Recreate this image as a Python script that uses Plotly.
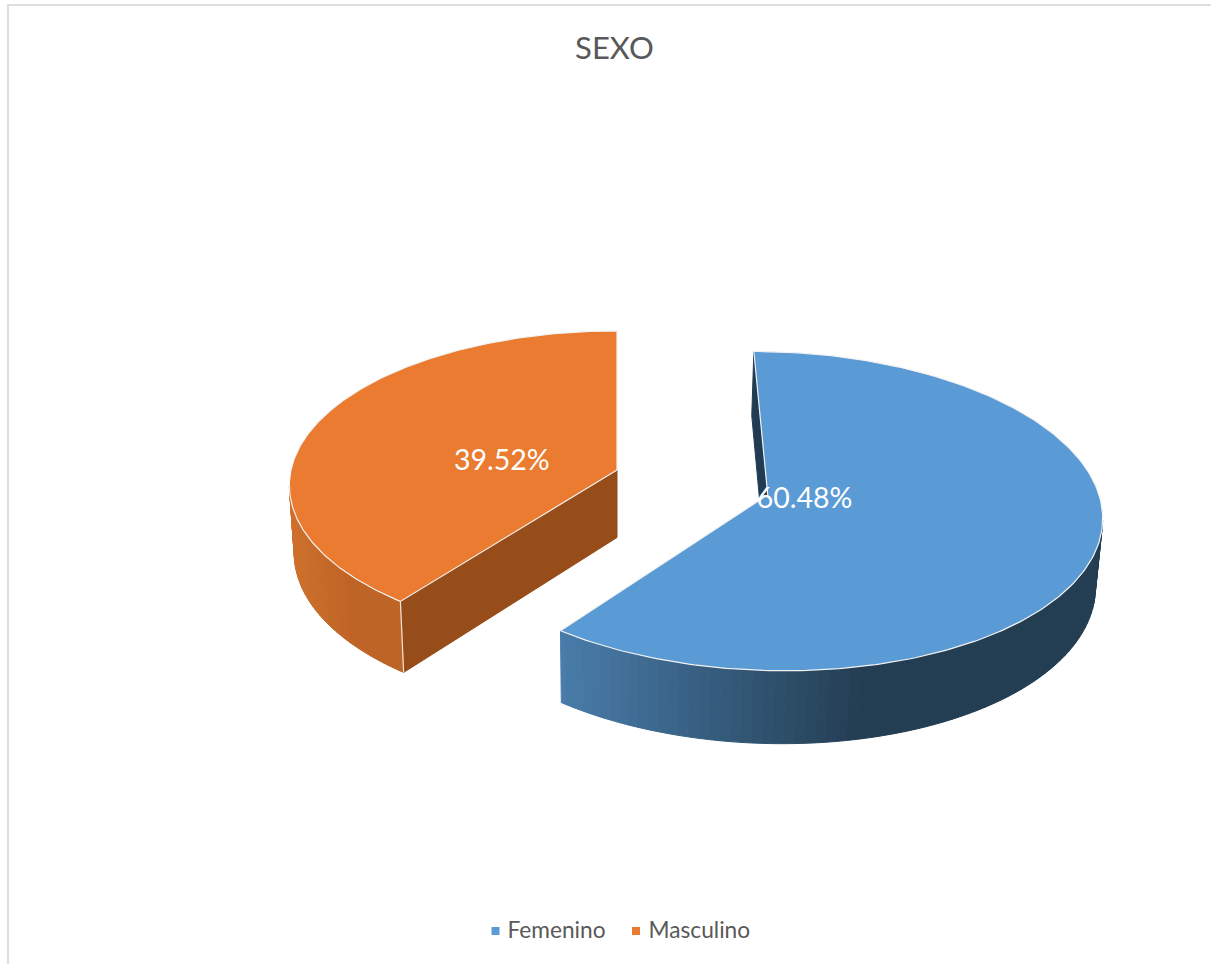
import numpy as np
import plotly.graph_objects as go

# Chart content
TITLE = "SEXO"
categories = ["Femenino", "Masculino"]
shares = [60.48, 39.52]

# Colours per category
TOP_COLOURS = ["#5B9BD5", "#EA7B30"]
CUT_COLOURS = ["#213C52", "#974D1A"]
RIM_LIGHT = ["#4A7DAB", "#CF702C"]
RIM_DARK = ["#233D52", "#BE6426"]
INK = "#595959"

# Camera model for the exploded 3D pie
VIEW_X, VIEW_Y = 617.0, 470.0
SCALE_X, SCALE_Y = 326.0, 153.0
DEPTH_K = 0.10
THICKNESS = 67.5
BOTTOM_SHRINK = 0.985
# Each slice's apex and label anchor on the ground plane, in radius units
APEX = [(0.455, -0.16), (0.0, 0.0)]
LABEL_AT = [(0.564, -0.195), (-0.355, 0.046)]
# Legend key centres and where their captions start
KEY_X = [495.5, 636.0]
CAPTION_X = [507.5, 648.5]
KEY_Y = 931


def project(px, py, lower=False):
    """Project ground-plane points to the drawing plane."""
    px, py = np.asarray(px, float), np.asarray(py, float)
    d = 1 + DEPTH_K * py
    sx = SCALE_X * px / d
    sy = -SCALE_Y * py / d
    if lower:
        sx = sx * BOTTOM_SHRINK
        sy = sy + THICKNESS + 0.027 * sy
    return VIEW_X + sx, VIEW_Y + sy


def mix(c1, c2, f):
    a = [int(c1[i:i + 2], 16) for i in (1, 3, 5)]
    b = [int(c2[i:i + 2], 16) for i in (1, 3, 5)]
    return "rgb(%d,%d,%d)" % tuple(round(p + (q - p) * f) for p, q in zip(a, b))


fig = go.Figure()


def poly(x, y, fill, line=None, width=1):
    fig.add_trace(go.Scatter(
        x=list(x), y=list(y), mode="lines", fill="toself", fillcolor=fill,
        line=dict(color=line or fill, width=width),
        hoverinfo="skip", showlegend=False,
    ))


# Cumulative slice angles, clockwise from twelve o'clock
fractions = np.array(shares) / sum(shares)
ends = np.cumsum(fractions) * 2 * np.pi
starts = ends - fractions * 2 * np.pi

for i in range(len(categories)):
    apex, a, b = APEX[i], starts[i], ends[i]
    ax, ay = project(apex[0], apex[1])
    lax, lay = project(apex[0], apex[1], lower=True)

    # Cut face at the leading angle; the top face covers whatever lies behind it
    ex, ey = apex[0] + np.sin(a), apex[1] + np.cos(a)
    cx, cy = project(ex, ey)
    dx, dy = project(ex, ey, lower=True)
    poly([ax, cx, dx, lax, ax], [ay, cy, dy, lay, ay], CUT_COLOURS[i])

    # Outer wall split into shaded strips
    t = np.linspace(a, b, 260)
    rx, ry = apex[0] + np.sin(t), apex[1] + np.cos(t)
    tx, ty = project(rx, ry)
    bx, by = project(rx, ry, lower=True)
    front = np.where(np.gradient(tx) < 0)[0]
    i0, i1 = front[0], front[-1]
    idx = np.arange(i0, i1 + 1)
    left, right = tx[idx].min(), tx[idx].max()
    for k in idx[:-1][::2]:
        k2 = min(k + 2, i1)
        shade = min((tx[k] - left) / (right - left) * 1.75, 1)
        poly([tx[k], tx[k2], bx[k2], bx[k], tx[k]],
             [ty[k], ty[k2], by[k2], by[k], ty[k]],
             mix(RIM_LIGHT[i], RIM_DARK[i], shade))

    # The nearer corner of the orange block carries a white seam
    if i == 1:
        fig.add_trace(go.Scatter(
            x=[float(cx), float(dx)], y=[float(cy), float(dy)], mode="lines",
            line=dict(color="#F2E6DC", width=1.2), hoverinfo="skip", showlegend=False,
        ))

    # Top face with its thin white edge
    poly(np.r_[ax, tx, ax], np.r_[ay, ty, ay], TOP_COLOURS[i], "#F2F2F2", 1.2)

# Value labels
for i in range(len(categories)):
    lx, ly = project(*LABEL_AT[i])
    fig.add_trace(go.Scatter(
        x=[float(lx)], y=[float(ly)], mode="text",
        text=[f"{shares[i]:.2f}%"], textposition="middle center",
        textfont=dict(family="Lato", size=28.5, color="white"),
        hoverinfo="skip", showlegend=False,
    ))

# Legend row: square keys and captions
for i, name in enumerate(categories):
    fig.add_trace(go.Scatter(
        x=[KEY_X[i]], y=[KEY_Y], mode="markers",
        marker=dict(symbol="square", size=8, color=TOP_COLOURS[i], line=dict(width=0)),
        hoverinfo="skip", showlegend=False,
    ))
    fig.add_trace(go.Scatter(
        x=[CAPTION_X[i]], y=[KEY_Y + 1], mode="text", text=[name],
        textposition="middle right",
        textfont=dict(family="Lato", size=22.7, color=INK),
        hoverinfo="skip", showlegend=False,
    ))

W, H = 1211, 964
fig.update_layout(
    width=W, height=H, margin=dict(l=0, r=0, t=0, b=0),
    paper_bgcolor="white", plot_bgcolor="white", showlegend=False,
    xaxis=dict(range=[0, W], visible=False, fixedrange=True),
    yaxis=dict(range=[H, 0], visible=False, fixedrange=True),
    title=dict(text=TITLE, x=614.5 / W, y=1 - 48 / H, xanchor="center", yanchor="middle",
               font=dict(family="Lato", size=31, color=INK)),
    shapes=[
        dict(type="line", xref="paper", yref="paper", x0=7 / W, x1=1, y0=1 - 5 / H, y1=1 - 5 / H,
             line=dict(color="#DEDEDE", width=2)),
        dict(type="line", xref="paper", yref="paper", x0=8 / W, x1=8 / W, y0=0, y1=1 - 4 / H,
             line=dict(color="#DEDEDE", width=2)),
    ],
)
fig.write_html("out.html")
